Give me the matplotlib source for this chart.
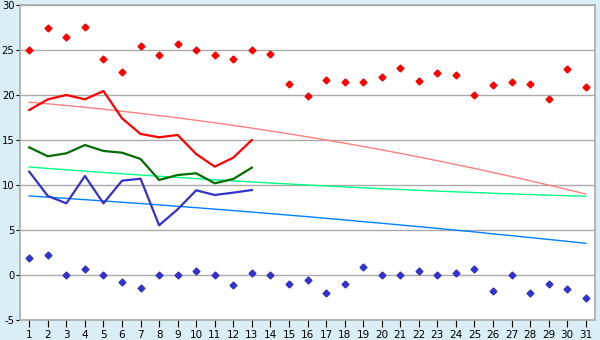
import matplotlib
matplotlib.use("Agg")
import matplotlib.pyplot as plt

plt.rcParams['axes.unicode_minus'] = False
plt.rcParams['font.family'] = ['DejaVu Sans']

days = list(range(1, 32))

max_pts = [25.0, 27.5, 26.4, 27.6, 24.0, 22.6, 25.4, 24.4, 25.7, 25.0,
           24.5, 24.0, 25.0, 24.6, 21.2, 19.85, 21.7, 21.5, 21.5, 22.0,
           23.0, 21.6, 22.4, 22.2, 20.0, 21.1, 21.4, 21.2, 19.6, 22.85, 20.85]

min_pts = [1.85, 2.2, 0.0, 0.63, 0.0, -0.81, -1.48, 0.0, 0.0, 0.44,
           0.0, -1.15, 0.19, 0.0, -1.04, -0.59, -2.04, -1.04, 0.85, 0.0,
           0.0, 0.41, 0.0, 0.19, 0.63, -1.81, 0.0, -2.04, -1.04, -1.59, -2.59]

line_days = list(range(1, 14))
max_line = [18.33, 19.52, 20.0, 19.52, 20.44, 17.41, 15.67, 15.3, 15.56, 13.44,
            12.04, 13.04, 15.0]
mean_line = [14.18, 13.19, 13.52, 14.44, 13.78, 13.59, 12.89, 10.56, 11.11, 11.3,
             10.19, 10.67, 11.93]
min_line = [11.48, 8.78, 7.96, 11.0, 7.96, 10.48, 10.7, 5.52, 7.3, 9.41,
            8.89, 9.15, 9.44]

norm_max = [19.2, 19.02, 18.83, 18.63, 18.42, 18.19, 17.96, 17.71, 17.46, 17.19,
            16.91, 16.62, 16.32, 16.01, 15.68, 15.35, 15.0, 14.65, 14.28, 13.9,
            13.51, 13.11, 12.7, 12.27, 11.84, 11.39, 10.94, 10.47, 9.99, 9.5, 9.0]
norm_mean = [12.0, 11.84, 11.69, 11.54, 11.39, 11.25, 11.11, 10.97, 10.84, 10.71,
             10.58, 10.46, 10.34, 10.22, 10.11, 10.0, 9.89, 9.79, 9.69, 9.59,
             9.5, 9.41, 9.32, 9.24, 9.16, 9.08, 9.01, 8.94, 8.87, 8.81, 8.75]
norm_min = [8.78, 8.65, 8.51, 8.37, 8.23, 8.08, 7.94, 7.79, 7.63, 7.48,
            7.32, 7.16, 6.99, 6.82, 6.65, 6.48, 6.3, 6.12, 5.93, 5.75,
            5.56, 5.37, 5.18, 4.98, 4.79, 4.57, 4.37, 4.16, 3.95, 3.74, 3.52]

y_ticks = [-5, 0, 5, 10, 15, 20, 25, 30]

fig = plt.figure(figsize=(6, 3.4), dpi=100, facecolor='#d9eff5')
ax = fig.add_axes([20/600, 1 - 320/340, 575/600, 315/340])
ax.set_facecolor('white')

ax.plot(days, norm_max, color='#ff8080', lw=1.0, zorder=2)
ax.plot(days, norm_mean, color='#00ff80', lw=1.0, zorder=2)
ax.plot(days, norm_min, color='#0080ff', lw=1.0, zorder=2)

ax.plot(line_days, max_line, color='#ff0000', lw=1.6, zorder=3)
ax.plot(line_days, mean_line, color='#006e00', lw=1.6, zorder=3)
ax.plot(line_days, min_line, color='#3333cc', lw=1.6, zorder=3)

ax.plot(days, max_pts, linestyle='none', marker='D', markersize=3.5,
        color='#ff0000', zorder=4)
ax.plot(days, min_pts, linestyle='none', marker='D', markersize=3.5,
        color='#3333cc', zorder=4)

ax.set_xlim(0.5, 31.5)
ax.set_ylim(-5, 30)
ax.set_xticks(days)
ax.set_xticklabels([str(d) for d in days])
ax.set_yticks(y_ticks)
ax.set_yticklabels([str(v) for v in y_ticks])

ax.yaxis.grid(True, color='#aaaaaa', lw=1.0, zorder=1)
ax.set_axisbelow(True)
for s in ax.spines.values():
    s.set_color('#aaaaaa')
    s.set_linewidth(1.2)

ax.tick_params(axis='y', labelsize=7.2, colors='#000000', length=3, width=0.8,
               pad=1)
ax.tick_params(axis='x', labelsize=7.5, colors='#000000', length=5, width=0.8,
               pad=2)

fig.savefig('out.png', dpi=100, facecolor=fig.get_facecolor())
